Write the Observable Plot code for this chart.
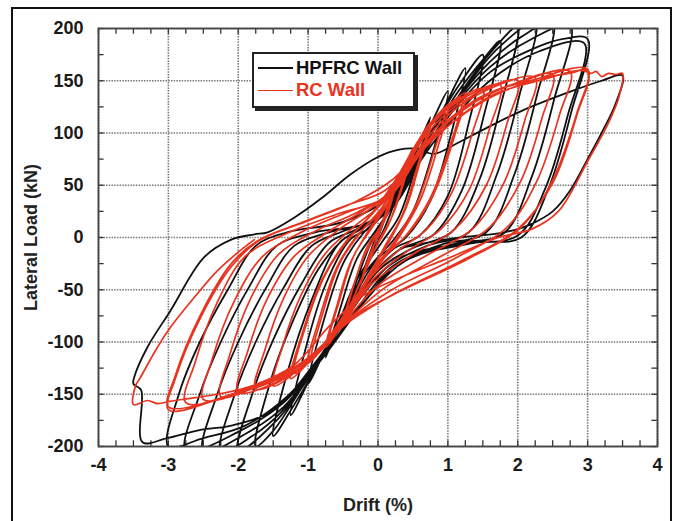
<!DOCTYPE html>
<html><head><meta charset="utf-8">
<script src="https://cdn.jsdelivr.net/npm/d3@7"></script>
<script src="https://cdn.jsdelivr.net/npm/@observablehq/plot@0.6"></script>
<style>
html,body{margin:0;padding:0;background:#fff;}
#wrap{position:relative;width:676px;height:521px;overflow:hidden;background:#fff;}
#border{position:absolute;left:11px;top:7px;width:661px;height:540px;border:2px solid #111;box-sizing:border-box;pointer-events:none;}
#legend{position:absolute;left:252px;top:52px;width:163px;height:56px;border:2px solid #222;box-shadow:3px 3px 0 #222;background:#fff;box-sizing:border-box;font-family:"Liberation Sans",Arial,sans-serif;font-weight:bold;font-size:18.5px;}
.row{position:absolute;left:4px;height:20px;display:flex;align-items:center;white-space:nowrap;}
.sw{width:35px;height:0;border-top:2px solid;margin-right:3px;}
</style></head>
<body><div id="wrap"><div id="chart"></div><div id="border"></div>
<div id="legend">
<div class="row" style="top:4px;color:#111"><span class="sw" style="border-color:#111"></span>HPFRC Wall</div>
<div class="row" style="top:26px;color:#e8341f"><span class="sw" style="border-color:#e8341f;border-top-width:1.6px"></span>RC Wall</div>
</div></div>
<script>
const xTicks = [-4, -3, -2, -1, 0, 1, 2, 3, 4];
const yTicks = [-200, -150, -100, -50, 0, 50, 100, 150, 200];

// HPFRC Wall: [drift %, lateral load kN] along the test history
const hpfrcPath = [
[0,0],[0.25,45],[0.15,25],[0,5],[-0.25,-40],[-0.12,-18],[0,2],
[0.2,35],[0.5,85],[0.35,55],[0.1,10],[-0.2,-30],[-0.5,-80],[-0.35,-50],[-0.1,-5],
[0.2,30],[0.5,75],[0.75,115],[0.55,70],[0.3,20],[0.05,-5],[-0.3,-40],[-0.55,-80],[-0.75,-115],[-0.55,-70],[-0.3,-20],[-0.05,5],
[0.25,35],[0.6,85],[1.0,140],[0.8,85],[0.5,25],[0.25,0],[-0.2,-35],[-0.6,-85],[-1.0,-140],[-0.8,-85],[-0.5,-25],[-0.2,5],
[0.2,30],[0.6,80],[0.95,125],[1.25,162],[1.05,100],[0.75,35],[0.4,0],[0,-20],[-0.45,-70],[-0.9,-125],[-1.25,-170],[-1.05,-110],[-0.75,-45],[-0.4,-2],[-0.1,10],
[0.3,45],[0.75,100],[1.15,145],[1.5,175],[1.3,110],[1.0,40],[0.6,2],[0.2,-12],[-0.3,-55],[-0.8,-115],[-1.2,-160],[-1.5,-190],[-1.3,-130],[-0.95,-60],[-0.55,-5],[-0.2,10],
[0.2,35],[0.7,92],[1.15,140],[1.5,170],[1.75,188],[1.52,118],[1.2,45],[0.8,3],[0.3,-12],[-0.2,-45],[-0.7,-100],[-1.15,-150],[-1.5,-185],[-1.75,-200],[-1.55,-140],[-1.25,-85],[-0.85,-30],[-0.5,-2],[-0.1,14],
[0.3,42],[0.8,98],[1.25,145],[1.65,180],[2.0,202],[1.77,130],[1.45,55],[1.05,5],[0.5,-10],[0,-32],[-0.5,-82],[-1.0,-135],[-1.45,-175],[-2.0,-204],[-1.8,-150],[-1.5,-98],[-1.1,-45],[-0.7,-5],[-0.3,8],
[0.2,28],[0.7,85],[1.2,138],[1.7,180],[2.25,206],[2.02,135],[1.7,60],[1.3,5],[0.7,-8],[0.1,-30],[-0.4,-72],[-0.9,-125],[-1.4,-168],[-1.8,-190],[-2.25,-205],[-2.05,-150],[-1.75,-100],[-1.35,-48],[-0.95,-8],[-0.5,6],
[0.1,22],[0.6,75],[1.1,128],[1.6,168],[2.05,192],[2.5,206],[2.27,135],[1.95,60],[1.55,5],[0.9,-7],[0.2,-28],[-0.3,-68],[-0.85,-120],[-1.35,-162],[-1.9,-188],[-2.5,-205],[-2.3,-150],[-2.0,-100],[-1.6,-48],[-1.2,-8],[-0.7,5],
[0,18],[0.5,68],[1.05,122],[1.6,163],[2.2,190],[2.75,203],[2.52,132],[2.2,58],[1.8,4],[1.1,-6],[0.3,-24],[-0.2,-62],[-0.8,-116],[-1.35,-158],[-2.0,-186],[-2.75,-204],[-2.55,-150],[-2.25,-100],[-1.85,-48],[-1.45,-8],[-0.9,5],
[-0.1,16],[0.45,62],[1.0,115],[1.6,158],[2.2,180],[2.65,190],[3.0,190],[2.77,121],[2.44,47],[2.05,0],[1.4,-5],[0.4,-22],[-0.15,-58],[-0.75,-110],[-1.3,-152],[-1.9,-180],[-2.5,-192],[-3.0,-200],[-2.85,-150],[-2.55,-100],[-2.15,-50],[-1.75,-8],[-1.3,5],
[-0.5,15],[0.2,40],[0.9,100],[1.6,150],[2.3,178],[2.95,186],[2.72,118],[2.4,48],[2.0,2],[1.2,-6],[0.3,-20],[-0.3,-62],[-0.9,-120],[-1.5,-165],[-2.1,-180],[-2.54,-184],[-3.02,-192],[-3.37,-196],[-3.39,-146],[-3.5,-140],
[-3.49,-134],[-3.3,-105],[-2.97,-70],[-2.49,-19],[-2.1,-2],[-1.77,3],[-1.58,5],[-1.2,19],[-0.8,38],[-0.4,60],[0,77],[0.3,84],[0.55,85],[0.8,80],[1.1,89],[1.5,103],[2.05,121],[2.77,140],[3.2,150],[3.5,155],
[3.4,128],[3.2,100],[3.0,75],[2.75,45],[2.5,25],[2.2,13],[2.0,8],[1.72,4],[1.3,1],[0.95,-2],[0.33,-10]
];

// RC Wall: [drift %, lateral load kN] along the test history
const rcPath = [
[0,0],[0.12,25],[0.25,50],[0.15,25],[0,3],[-0.12,-20],[-0.25,-45],[-0.15,-22],[0,2],
[0.2,40],[0.38,68],[0.5,85],[0.38,55],[0.2,20],[0,-5],[-0.2,-35],[-0.38,-62],[-0.5,-80],[-0.38,-52],[-0.2,-18],[0,5],
[0.15,30],[0.35,62],[0.45,78],[0.32,45],[0.15,12],[-0.05,-12],[-0.25,-42],[-0.45,-72],[-0.32,-40],[-0.15,-8],[0.05,12],
[0.15,32],[0.4,70],[0.6,95],[0.75,110],[0.6,72],[0.4,28],[0.15,-5],[-0.15,-38],[-0.4,-70],[-0.6,-92],[-0.75,-105],[-0.6,-68],[-0.4,-25],[-0.15,5],
[0.2,40],[0.45,75],[0.7,102],[0.55,65],[0.35,22],[0.1,-8],[-0.2,-45],[-0.45,-75],[-0.7,-98],[-0.55,-60],[-0.35,-18],[-0.1,8],
[0.1,28],[0.4,68],[0.7,105],[1.0,125],[0.85,85],[0.6,35],[0.3,0],[0,-28],[-0.35,-62],[-0.7,-98],[-1.0,-120],[-0.85,-80],[-0.6,-30],[-0.3,2],[0,22],
[0.15,40],[0.45,78],[0.75,108],[0.95,120],[0.8,82],[0.55,32],[0.25,-2],[-0.05,-30],[-0.4,-68],[-0.7,-95],[-0.95,-115],[-0.8,-75],[-0.55,-25],[-0.25,5],[0.05,28],
[0.3,55],[0.6,92],[0.95,122],[1.25,138],[1.1,98],[0.8,42],[0.45,5],[0.05,-20],[-0.3,-55],[-0.7,-95],[-1.0,-120],[-1.25,-135],[-1.1,-95],[-0.8,-40],[-0.45,-3],[-0.1,22],
[0.25,55],[0.6,95],[0.95,124],[1.2,134],[1.05,92],[0.75,38],[0.4,2],[0,-25],[-0.35,-60],[-0.75,-100],[-1.2,-130],[-1.05,-88],[-0.75,-35],[-0.4,0],[-0.05,25],
[0.25,52],[0.6,95],[1.0,125],[1.5,142],[1.35,100],[1.05,42],[0.7,8],[0.3,-12],[-0.1,-38],[-0.5,-80],[-1.0,-118],[-1.5,-142],[-1.37,-105],[-1.1,-55],[-0.75,-15],[-0.35,10],[0.05,32],
[0.3,56],[0.65,98],[1.1,128],[1.75,146],[1.6,105],[1.3,45],[0.9,8],[0.4,-14],[-0.1,-42],[-0.5,-82],[-1.0,-120],[-1.75,-145],[-1.62,-108],[-1.35,-58],[-1.0,-18],[-0.55,8],[-0.1,28],
[0.28,52],[0.65,95],[1.2,130],[2.0,150],[1.85,110],[1.55,50],[1.1,8],[0.5,-16],[-0.1,-45],[-0.55,-85],[-1.1,-125],[-2.0,-148],[-1.87,-110],[-1.58,-58],[-1.2,-18],[-0.7,6],[-0.2,26],
[0.25,48],[0.7,95],[1.3,132],[2.25,153],[2.1,112],[1.8,52],[1.35,8],[0.7,-17],[0,-46],[-0.5,-82],[-1.1,-125],[-1.7,-142],[-2.25,-152],[-2.12,-112],[-1.82,-58],[-1.42,-16],[-0.9,6],[-0.3,24],
[0.22,45],[0.7,92],[1.35,130],[1.9,146],[2.5,156],[2.35,115],[2.05,55],[1.6,10],[0.9,-18],[0.1,-48],[-0.45,-80],[-1.1,-124],[-1.8,-145],[-2.5,-155],[-2.38,-118],[-2.05,-60],[-1.65,-18],[-1.1,5],[-0.45,24],
[0.2,42],[0.7,90],[1.4,130],[2.0,148],[2.75,159],[2.6,118],[2.28,55],[1.85,10],[1.1,-20],[0.2,-50],[-0.4,-78],[-1.1,-122],[-1.9,-147],[-2.75,-158],[-2.62,-120],[-2.3,-62],[-1.9,-18],[-1.3,4],[-0.6,22],
[0.15,40],[0.7,88],[1.45,128],[2.2,150],[3.0,161],[2.85,120],[2.5,55],[2.05,10],[1.3,-20],[0.3,-52],[-0.35,-76],[-1.1,-120],[-2.0,-148],[-3.0,-162],[-2.9,-132],[-2.54,-74],[-2.1,-25],[-1.72,-3],[-1.1,14],[-0.4,32],
[0.1,45],[0.8,95],[1.6,135],[2.3,150],[3.0,158],[2.85,118],[2.5,52],[2.0,8],[1.2,-22],[0.2,-55],[-0.4,-80],[-1.2,-125],[-2.1,-150],[-3.0,-165],[-2.9,-135],[-2.55,-78],[-2.1,-28],[-1.7,-3],[-1.0,16],[-0.3,35],
[0.2,55],[0.9,105],[1.6,138],[2.3,152],[2.8,158],[2.95,161],[3.05,157],[3.12,159],[3.2,154],[3.3,157],[3.4,156],[3.5,157],
[3.45,135],[3.3,110],[3.0,73],[2.58,25],[2.2,8],[1.72,0],[1.0,-20],[0.33,-38],[-0.2,-55],[-0.7,-85],[-1.2,-122],[-1.8,-142],[-2.3,-150],[-2.8,-155],[-3.0,-157],[-3.15,-159],[-3.3,-156],[-3.5,-160],
[-3.47,-142],[-3.4,-134],[-3.2,-110],[-2.97,-86],[-2.6,-55],[-2.3,-32],[-2.0,-14],[-1.77,-2]
];

const xMinor = d3.range(-4, 4.001, 0.25);
const yMinor = d3.range(-200, 200.1, 25);
const font = "'Liberation Sans', Arial, sans-serif";

const chart = Plot.plot({
  width: 676, height: 521,
  marginLeft: 98, marginRight: 19, marginTop: 28, marginBottom: 75,
  style: {fontFamily: font, background: "white", color: "#1a1a1a"},
  x: {domain: [-4, 4], label: null},
  y: {domain: [-200, 200], label: null},
  marks: [
    Plot.ruleX(xTicks, {stroke: "#7a7a7a", strokeWidth: 1.6, strokeDasharray: "1.5,1.2"}),
    Plot.ruleY(yTicks, {stroke: "#7a7a7a", strokeWidth: 1.6, strokeDasharray: "1.5,1.2"}),
    Plot.ruleX(xMinor, {y1: -200, y2: -194.5, stroke: "#333", strokeWidth: 1.3}),
    Plot.ruleX(xMinor, {y1: 200, y2: 194.5, stroke: "#333", strokeWidth: 1.3}),
    Plot.ruleY(yMinor, {x1: -4, x2: -3.92, stroke: "#333", strokeWidth: 1.3}),
    Plot.ruleY(yMinor, {x1: 4, x2: 3.92, stroke: "#333", strokeWidth: 1.3}),
    Plot.line(hpfrcPath, {x: d => d[0], y: d => d[1], stroke: "#111", strokeWidth: 1.8, curve: "catmull-rom", clip: true}),
    Plot.line(rcPath, {x: d => d[0], y: d => d[1], stroke: "#e8341f", strokeWidth: 1.7, curve: "catmull-rom", clip: true}),
    Plot.frame({stroke: "#444", strokeWidth: 1.8}),
    Plot.axisX({ticks: xTicks, tickSize: 0, tickPadding: 12, fontSize: 18, fontWeight: "bold", tickFormat: d => String(d), label: null}),
    Plot.axisY({ticks: yTicks, tickSize: 0, tickPadding: 15, fontSize: 18, fontWeight: "bold", tickFormat: d => String(d), label: null}),
    Plot.text(["Drift (%)"], {text: d => d, frameAnchor: "bottom", lineAnchor: "middle", textAnchor: "middle", dy: 59, fontSize: 18, fontWeight: "bold", fill: "#222"}),
    Plot.text(["Lateral Load (kN)"], {text: d => d, frameAnchor: "left", textAnchor: "middle", lineAnchor: "middle", dx: -67, rotate: -90, fontSize: 18, fontWeight: "bold", fill: "#222"})
  ]
});
document.getElementById("chart").appendChild(chart);
</script></body></html>
